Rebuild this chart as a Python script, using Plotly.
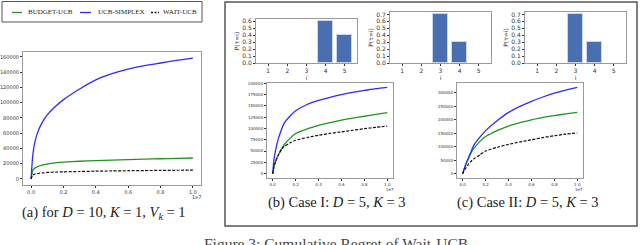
import plotly.graph_objects as go

W, H = 640, 245

# ---------------- data ----------------
T = [0, 0.01, 0.025, 0.05, 0.08, 0.1, 0.15, 0.2, 0.3, 0.4, 0.5, 0.6, 0.7, 0.8, 0.9, 1.0]  # x in units of 1e7

a_budget = [0, 11000, 14500, 17000, 18700, 19500, 21000, 22000, 23200, 24000, 24700, 25300, 25900, 26500, 27000, 27500]
a_simplex = [0, 30000, 50000, 66000, 78000, 84000, 95000, 104000, 118000, 130000, 138000, 144000, 148500, 152000, 155500, 158500]
a_wait = [0, 5000, 6500, 7500, 8100, 8500, 9000, 9300, 9800, 10200, 10500, 10800, 11000, 11200, 11400, 11500]

b_budget = [0, 14000, 27000, 42000, 56000, 64000, 78000, 89000, 99000, 107000, 113000, 118500, 123000, 127000, 131000, 135000]
b_simplex = [0, 30000, 52000, 78000, 100000, 112000, 127000, 139000, 153000, 162000, 169000, 175000, 180000, 184000, 188000, 191000]
b_wait = [0, 14000, 27000, 42000, 55000, 60000, 68000, 74000, 80000, 85000, 89000, 92500, 96000, 99500, 102500, 105000]

c_budget = [0, 14000, 32000, 57000, 83000, 95000, 120000, 138000, 160000, 177000, 190000, 200000, 209000, 216000, 222000, 228000]
c_simplex = [0, 14000, 32000, 58000, 90000, 108000, 136000, 160000, 197000, 228000, 250000, 269000, 285000, 299000, 311000, 321000]
c_wait = [0, 10000, 20000, 35000, 49000, 56000, 70000, 84000, 98000, 109000, 118000, 126000, 134000, 141000, 147000, 152000]

bar_i = [1, 2, 3, 4, 5]
p_case1 = [0, 0, 0, 0.6, 0.4]
p_case2a = [0, 0, 0.7, 0.3, 0]
p_case2b = [0, 0, 0.7, 0.3, 0]

series_names = ["BUDGET-UCB", "UCB-SIMPLEX", "WAIT-UCB"]

# ---------------- helpers ----------------
def px(x):
    return x / W

def py(y):
    return 1 - y / H

GREEN = "#1e961e"
BLUE = "#2b2bff"
BLACK = "#111111"
BARC = "#4a6fb0"
FRAME = "#9a9a9a"
TICKC = "#333333"
SERIF = "Liberation Serif, Times New Roman, serif"
SANS = "DejaVu Sans, sans-serif"

fig = go.Figure()

def add_lines(xa, ya, budget, simplex, wait):
    fig.add_trace(go.Scatter(x=T, y=budget, mode="lines", line=dict(color=GREEN, width=1.3, shape="spline", smoothing=0.6),
                             xaxis=xa, yaxis=ya, showlegend=False, name=series_names[0]))
    fig.add_trace(go.Scatter(x=T, y=simplex, mode="lines", line=dict(color=BLUE, width=1.3, shape="spline", smoothing=0.6),
                             xaxis=xa, yaxis=ya, showlegend=False, name=series_names[1]))
    fig.add_trace(go.Scatter(x=T, y=wait, mode="lines", line=dict(color=BLACK, width=1.2, dash="3px,1.5px", shape="spline", smoothing=0.6),
                             xaxis=xa, yaxis=ya, showlegend=False, name=series_names[2]))

def add_bars(xa, ya, vals):
    fig.add_trace(go.Bar(x=bar_i, y=vals, width=0.8,
                         marker=dict(color=BARC, line=dict(color="#c9d6ee", width=[1 if v > 0 else 0 for v in vals])),
                         xaxis=xa, yaxis=ya, showlegend=False))

add_lines("x", "y", a_budget, a_simplex, a_wait)
add_bars("x2", "y2", p_case1)
add_bars("x3", "y3", p_case2a)
add_bars("x4", "y4", p_case2b)
add_lines("x5", "y5", b_budget, b_simplex, b_wait)
add_lines("x6", "y6", c_budget, c_simplex, c_wait)

def axis_common(fs):
    return dict(showline=True, linecolor=FRAME, linewidth=1, mirror=True, showgrid=False, zeroline=False,
                ticks="outside", ticklen=2, tickwidth=0.8, tickcolor=TICKC, automargin=False,
                tickfont=dict(family=SANS, size=fs, color=TICKC))

xticks = [0, 0.2, 0.4, 0.6, 0.8, 1.0]
xtext = ["0.0", "0.2", "0.4", "0.6", "0.8", "1.0"]

layout = dict(
    width=W, height=H, margin=dict(l=0, r=0, t=0, b=0, autoexpand=False),
    paper_bgcolor="white", plot_bgcolor="white", showlegend=False, bargap=0,
)

# (a) line plot
layout["xaxis"] = dict(domain=[px(23), px(201)], anchor="y", range=[-0.05, 1.05], tickvals=xticks, ticktext=xtext, **axis_common(5))
layout["yaxis"] = dict(domain=[py(185), py(52)], anchor="x", range=[-7925, 166425], tickvals=list(range(0, 160001, 20000)),
                       tickformat="d", **axis_common(5))

# bar plots
bar_dom = [(256, 357, 19, 0.63, 0.6), (390, 491, 12, 0.735, 0.7), (525, 626, 12, 0.735, 0.7)]
for k, (x0, x1, ytop, ymax, tmax) in enumerate(bar_dom):
    n = k + 2
    layout[f"xaxis{n}"] = dict(domain=[px(x0), px(x1)], anchor=f"y{n}", range=[0.36, 5.64], tickvals=bar_i,
                               title=dict(text="i", font=dict(family=SANS, size=6, color=TICKC), standoff=1),
                               **axis_common(6))
    nt = int(round(tmax * 10)) + 1
    layout[f"yaxis{n}"] = dict(domain=[py(63), py(ytop)], anchor=f"x{n}", range=[0, ymax],
                               tickvals=[i / 10 for i in range(nt)], ticktext=[f"{i/10:.1f}" for i in range(nt)],
                               title=dict(text="P(τ=i)", font=dict(family=SANS, size=6, color=TICKC), standoff=2),
                               **axis_common(6))

# (b), (c) line plots
layout["xaxis5"] = dict(domain=[px(267), px(393)], anchor="y5", range=[-0.05, 1.05], tickvals=xticks, ticktext=xtext, **axis_common(4))
layout["yaxis5"] = dict(domain=[py(178), py(83)], anchor="x5", range=[-9550, 200550], tickvals=list(range(0, 200001, 25000)),
                        tickformat="d", **axis_common(4))
layout["xaxis6"] = dict(domain=[px(457), px(583)], anchor="y6", range=[-0.05, 1.05], tickvals=xticks, ticktext=xtext, **axis_common(4))
layout["yaxis6"] = dict(domain=[py(178), py(83)], anchor="x6", range=[-16050, 337050], tickvals=list(range(0, 300001, 50000)),
                        tickformat="d", **axis_common(4))

fig.update_layout(**layout)

shapes = []
anns = []

# legend box for (a)
shapes.append(dict(type="rect", xref="paper", yref="paper", x0=px(2), x1=px(202), y0=py(22), y1=py(1.5),
                   line=dict(color="#555555", width=1), fillcolor="white"))
leg = [(12, 22, 26, GREEN, "solid", series_names[0]),
       (80, 91, 96, BLUE, "solid", series_names[1]),
       (151, 159, 161, BLACK, "2px,1.5px", series_names[2])]
for l0, l1, tx, col, dash, name in leg:
    shapes.append(dict(type="line", xref="paper", yref="paper", x0=px(l0), x1=px(l1), y0=py(12.5), y1=py(12.5),
                       line=dict(color=col, width=1.3, dash=dash)))
    anns.append(dict(text=name, xref="paper", yref="paper", x=px(tx), y=py(12.5), xanchor="left", yanchor="middle",
                     showarrow=False, font=dict(family=SERIF, size=7, color="#222222")))

# right enclosing box
shapes.append(dict(type="rect", xref="paper", yref="paper", x0=px(225), x1=px(637), y0=py(226), y1=py(2),
                   line=dict(color="#555555", width=1.5)))

# offset labels
for xx, yy, fs in [(196, 197, 5), (390, 189, 4), (579, 189, 4)]:
    anns.append(dict(text="1e7", xref="paper", yref="paper", x=px(xx), y=py(yy), xanchor="center", yanchor="middle",
                     showarrow=False, font=dict(family=SANS, size=fs, color=TICKC)))

caps = [
    (104, 213, "(a) for <i>D</i> = 10, <i>K</i> = 1, <i>V</i><sub><i>k</i></sub> = 1"),
    (337, 202, "(b) Case I: <i>D</i> = 5, <i>K</i> = 3"),
    (528, 202, "(c) Case II: <i>D</i> = 5, <i>K</i> = 3"),
]
for xx, yy, t in caps:
    anns.append(dict(text=t, xref="paper", yref="paper", x=px(xx), y=py(yy), xanchor="center", yanchor="middle",
                     showarrow=False, font=dict(family=SERIF, size=14.5, color="#222222")))

anns.append(dict(text="Figure 3: Cumulative Regret of Wait-UCB", xref="paper", yref="paper", x=px(336), y=py(243.5),
                 xanchor="center", yanchor="middle", showarrow=False, font=dict(family=SERIF, size=15.5, color="#444444")))

fig.update_layout(shapes=shapes, annotations=anns)

fig.write_html("out.html", config={"displayModeBar": False},
               post_script="document.body.style.margin='0px';document.body.style.overflow='hidden';")
